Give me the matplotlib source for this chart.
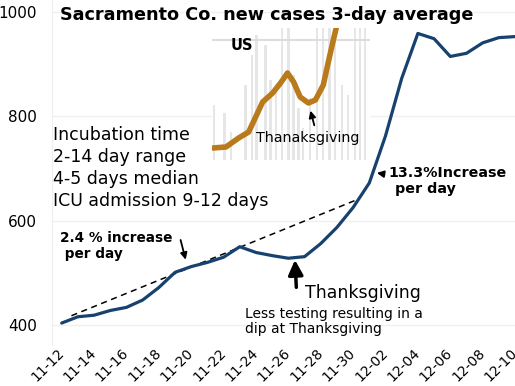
import numpy as np
import matplotlib
matplotlib.use('Agg')
import matplotlib.pyplot as plt

# Sacramento county, 3-day average of new cases
dates = ['11-12', '11-13', '11-14', '11-15', '11-16', '11-17', '11-18', '11-19',
         '11-20', '11-21', '11-22', '11-23', '11-24', '11-25', '11-26', '11-27',
         '11-28', '11-29', '11-30', '12-01', '12-02', '12-03', '12-04', '12-05',
         '12-06', '12-07', '12-08', '12-09', '12-10']
cases = [404, 416, 419, 428, 434, 448, 472, 501,
         512, 520, 530, 550, 539, 533, 528, 531,
         556, 587, 625, 672, 762, 872, 958, 948,
         914, 920, 940, 950, 952]

# dashed 2.4 % trend
trend_days = [0.6, 18.4]
trend_vals = [418, 642]

tick_labels = ['11-12', '11-14', '11-16', '11-18', '11-20', '11-22', '11-24', '11-26',
               '11-28', '11-30', '12-02', '12-04', '12-06', '12-08', '12-10']

notes = ['Incubation time', '2-14 day range', '4-5 days median', 'ICU admission 9-12 days']

# US inset (arbitrary units)
us_days = [0, 3, 5.9, 8.2, 9.8, 11.4, 13.7, 15.5, 17.1, 18.5, 20, 21.9, 23.5,
           25.3, 26.4, 27.6, 28.7]
us_vals = [12, 13, 22, 28, 43, 58, 67, 77, 87, 78, 63, 57, 60,
           75, 97, 120, 140]
bar_days = [0.2, 2.7, 4.1, 7.5, 8.9, 10, 12.1, 13.2, 14.4, 15.9, 17.3, 18.5,
            19.6, 20.7, 22.3, 23.9, 25.3, 26.7, 28, 29.6, 31, 32.6, 33.7, 34.9]
bar_vals = [55, 47, 28, 75, 105, 125, 115, 80, 70, 140, 140, 85,
            52, 32, 62, 140, 140, 140, 125, 75, 65, 140, 140, 140]

blue = '#17426f'
brown = '#b97a1c'

fig = plt.figure(figsize=(5.15, 3.86), dpi=100)
ax = fig.add_axes([52 / 515, 41 / 386, 1 - 52 / 515, 345 / 386])

days = np.arange(len(cases))
ax.plot(days, cases, color=blue, lw=2.3, solid_capstyle='round', solid_joinstyle='round', zorder=3)
ax.plot(trend_days, trend_vals, color='black', lw=1.1, ls=(0, (4, 3)), zorder=2)

ax.set_xlim(-0.6, 27.6)
ax.set_ylim(362, 1022)
ax.set_yticks([400, 600, 800, 1000])
ax.set_xticks(np.arange(0, 29, 2))
ax.set_xticklabels(tick_labels, rotation=45, ha='right', va='center',
                   rotation_mode='anchor', fontsize=10)
ax.tick_params(axis='y', length=0, pad=11, labelsize=11)
ax.tick_params(axis='x', length=0, pad=4)
ax.grid(axis='y', color='#f0f0f0', lw=1)
for s in ['top', 'right', 'bottom']:
    ax.spines[s].set_visible(False)
ax.spines['left'].set_color('#eeeeee')

fig.text(60 / 515, 1 - 15 / 386, 'Sacramento Co. new cases 3-day average',
         fontsize=12.7, fontweight='bold', va='center', ha='left')

# incubation notes, one line each
for i, line in enumerate(notes):
    ax.text(-0.55, 763.5 - 42.1 * i, line, fontsize=12.5, va='center', ha='left')

ax.text(-0.12, 551, '2.4 % increase\n per day', fontsize=9.8, fontweight='bold',
        va='center', ha='left', linespacing=1.2)
ax.annotate('', xy=(7.7, 520), xytext=(7.3, 568),
            arrowprops=dict(arrowstyle='-|>', color='black', lw=1.3, mutation_scale=10))

ax.text(20.2, 691, '13.3%Increase', fontsize=10.3, fontweight='bold', va='center', ha='left')
ax.text(20.6, 660, 'per day', fontsize=10.3, fontweight='bold', va='center', ha='left')
ax.annotate('', xy=(19.3, 692), xytext=(20.1, 688),
            arrowprops=dict(arrowstyle='-|>', color='black', lw=1.3, mutation_scale=10))

ax.text(15.05, 461, 'Thanksgiving', fontsize=12.5, va='center', ha='left')
ax.annotate('', xy=(14.4, 530), xytext=(14.5, 467),
            arrowprops=dict(arrowstyle='-|>', color='black', lw=2.5, mutation_scale=22))
ax.text(11.3, 407, 'Less testing resulting in a\ndip at Thanksgiving', fontsize=10,
        va='center', ha='left', linespacing=1.15)

# US inset
ins = fig.add_axes([212 / 515, 1 - 160 / 386, 158 / 515, 132 / 386])
ins.bar(bar_days, bar_vals, width=0.55, color='#e6e6e6', zorder=1)
ins.axhline(120, color='#dddddd', lw=1.5, zorder=1)
ins.plot(us_days, us_vals, color=brown, lw=4, solid_capstyle='round', zorder=3)
ins.set_xlim(-0.2, 36)
ins.set_ylim(0, 132)
ins.set_xticks([])
ins.set_yticks([])
for s in ins.spines.values():
    s.set_visible(False)
ins.text(4.0, 114, 'US', fontsize=10.5, fontweight='bold', va='center', ha='left')
ins.text(9.8, 22, 'Thanaksgiving', fontsize=10.3, va='center', ha='left')
ins.annotate('', xy=(22.2, 52), xytext=(23.4, 32),
             arrowprops=dict(arrowstyle='-|>', color='black', lw=1.3, mutation_scale=10))

fig.savefig('out.png', dpi=100)
